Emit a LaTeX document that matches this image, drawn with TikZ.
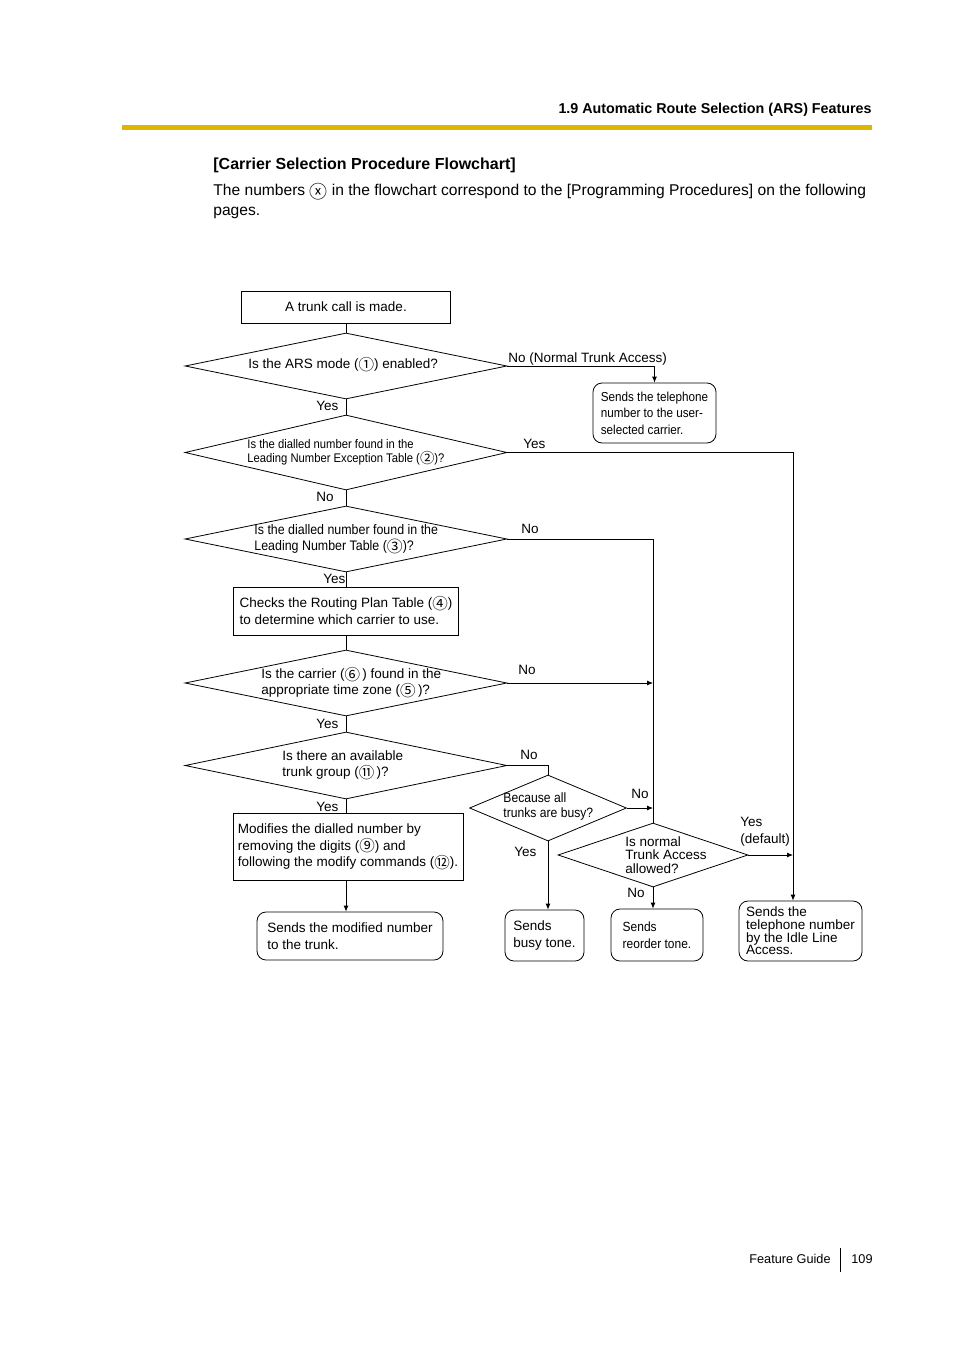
\documentclass[tikz,border=0pt]{standalone}
\usepackage{fontspec}
\setmainfont{Liberation Sans}
\newfontfamily\narrowfam[FakeStretch=0.9]{Liberation Sans}
\newfontfamily\symfam[Scale=1.15]{Noto Sans CJK JP}
\usetikzlibrary{shapes.geometric,arrows.meta}
\definecolor{rulegold}{RGB}{222,182,0}
\newcommand{\cn}[1]{\smash{\raisebox{-0.14em}{\symfam#1}}}
\newcommand{\flowfont}{\fontsize{13.5}{16.5}\selectfont}
\newcommand{\tightfont}{\fontsize{13.5}{13.4}\selectfont}
\newcommand{\slimfont}{\narrowfam\fontsize{12.5}{14}\selectfont}
\begin{document}
\begin{tikzpicture}[
    x=1pt, y=-1pt,
    line width=0.8pt,
    every node/.style={inner sep=0pt},
    proc/.style={draw, rectangle, align=left, font=\flowfont},
    finish/.style={proc, rounded corners=9pt},
    decision/.style={draw, diamond},
    lbl/.style={anchor=base west, font=\flowfont},
    arr/.style={-{Latex[length=6pt,width=5pt]}}
  ]
  \useasboundingbox (0,0) rectangle (954,1351);

  % page head
  \node[anchor=base east, font=\bfseries\fontsize{14.3}{17}\selectfont] (header) at (872,114) {1.9 Automatic Route Selection (ARS) Features};
  \fill[rulegold] (122,125) rectangle (872,130);
  \node[anchor=base west, font=\bfseries\fontsize{16}{19}\selectfont] (title) at (213,170) {[Carrier Selection Procedure Flowchart]};
  \node[anchor=base west, font=\fontsize{15.6}{19}\selectfont] (intro) at (213,196) {The numbers \cn{ⓧ} in the flowchart correspond to the [Programming Procedures] on the following};
  \node[anchor=base west, font=\fontsize{15.6}{19}\selectfont] (intro2) at (213,215) {pages.};

  % flowchart
  \node[proc, minimum width=209, minimum height=32] (start) at (346,307) {A trunk call is made.};

  \node[decision, minimum width=322, minimum height=66] (d1) at (346,366) {};
  \node[anchor=west, font=\flowfont] (d1t) at (248,365) {Is the ARS mode (\cn{①}) enabled?};
  \node[finish, minimum width=123, minimum height=60, font={\narrowfam\fontsize{13}{16.5}\selectfont}] (userbox) at (654.5,413) {Sends the telephone\\number to the user-\\selected carrier.};

  \node[decision, minimum width=322, minimum height=75] (d2) at (346,452.5) {};
  \node[anchor=west, align=left, font=\slimfont] (d2t) at (247,452) {Is the dialled number found in the\\Leading Number Exception Table (\cn{②})?};

  \node[decision, minimum width=322, minimum height=66] (d3) at (346,539) {};
  \node[anchor=west, align=left, font={\narrowfam\fontsize{13.8}{15.5}\selectfont}] (d3t) at (254,539) {Is the dialled number found in the\\Leading Number Table (\cn{③})?};

  \node[proc, minimum width=225, minimum height=48] (route) at (346,611) {Checks the Routing Plan Table (\cn{④})\\to determine which carrier to use.};

  \node[decision, minimum width=322, minimum height=66] (d4) at (346,683) {};
  \node[anchor=west, align=left, font=\flowfont] (d4t) at (261,683) {Is the carrier (\cn{⑥}\,) found in the\\appropriate time zone (\cn{⑤}\,)?};

  \node[decision, minimum width=322, minimum height=67] (d5) at (346,765.5) {};
  \node[anchor=west, align=left, font=\flowfont] (d5t) at (282,765) {Is there an available\\trunk group (\cn{⑪}\,)?};

  \node[proc, minimum width=230, minimum height=67] (modify) at (348,846.5) {Modifies the dialled number by\\removing the digits (\cn{⑨}) and\\following the modify commands (\cn{⑫}).};
  \node[finish, minimum width=186, minimum height=48] (sendmod) at (350,936) {Sends the modified number\\to the trunk.};

  \node[decision, minimum width=157, minimum height=66] (d6) at (548,808) {};
  \node[anchor=west, align=left, font={\narrowfam\fontsize{13.5}{15}\selectfont}] (d6t) at (503,807) {Because all\\trunks are busy?};
  \node[finish, minimum width=79, minimum height=51] (busy) at (544.5,935.5) {Sends\\busy tone.};

  \node[decision, minimum width=190, minimum height=64] (d7) at (653,855) {};
  \node[anchor=west, align=left, font=\tightfont] (d7t) at (625,855) {Is normal\\Trunk Access\\allowed?};
  \node[finish, minimum width=92, minimum height=52, font={\narrowfam\fontsize{13.3}{16.5}\selectfont}] (reorder) at (657,935) {Sends\\reorder tone.};

  \node[finish, minimum width=123, minimum height=60, font={\fontsize{13.5}{12.7}\selectfont}] (idle) at (800.5,931) {Sends the\\telephone number\\by the Idle Line\\Access.};
  \coordinate (yesline) at ([xshift=-7.5pt]idle.north);

  % branch labels
  \node[lbl] (l1) at (508,362) {No (Normal Trunk Access)};
  \node[lbl] (l2) at (316,410) {Yes};
  \node[lbl] (l3) at (523,448) {Yes};
  \node[lbl] (l4) at (316,501) {No};
  \node[lbl] (l5) at (521,533) {No};
  \node[lbl] (l6) at (323,583) {Yes};
  \node[lbl] (l7) at (518,674) {No};
  \node[lbl] (l8) at (316,728) {Yes};
  \node[lbl] (l9) at (520,759) {No};
  \node[lbl] (l10) at (316,811) {Yes};
  \node[lbl] (l11) at (631,798) {No};
  \node[lbl] (l12) at (514,856) {Yes};
  \node[anchor=north west, align=left, font=\flowfont] (l13) at (740,817) {Yes\\(default)};
  \node[lbl] (l14) at (627,897) {No};

  % connectors
  \draw (start.south) -- (d1.north);
  \draw[arr] (d1.east) -| (userbox.north);
  \draw (d1.south) -- (d2.north);
  \draw[arr] (d2.east) -| (yesline);
  \draw (d2.south) -- (d3.north);
  \draw (d3.east) -| (d7.north);
  \draw (d3.south) -- (d3.south |- route.north);
  \draw (route.south -| d4.north) -- (d4.north);
  \draw[arr] (d4.east) -- (d4.east -| d7.north);
  \draw (d4.south) -- (d5.north);
  \draw (d5.east) -| (d6.north);
  \draw (d5.south) -- (d5.south |- modify.north);
  \draw[arr] (modify.south -| d5.south) -- (d5.south |- sendmod.north);
  \draw[arr] (d6.east) -- (d6.east -| d7.north);
  \draw[arr] (d6.south) -- (d6.south |- busy.north);
  \draw[arr] (d7.east) -- (d7.east -| yesline);
  \draw[arr] (d7.south) -- (d7.south |- reorder.north);

  % page foot
  \node[anchor=base east, font=\fontsize{12.7}{15}\selectfont] (guide) at (831,1263) {Feature Guide};
  \draw (840,1248) -- (840,1272);
  \node[anchor=base west, font=\fontsize{12.7}{15}\selectfont] (page) at (851,1263) {109};
\end{tikzpicture}
\end{document}
